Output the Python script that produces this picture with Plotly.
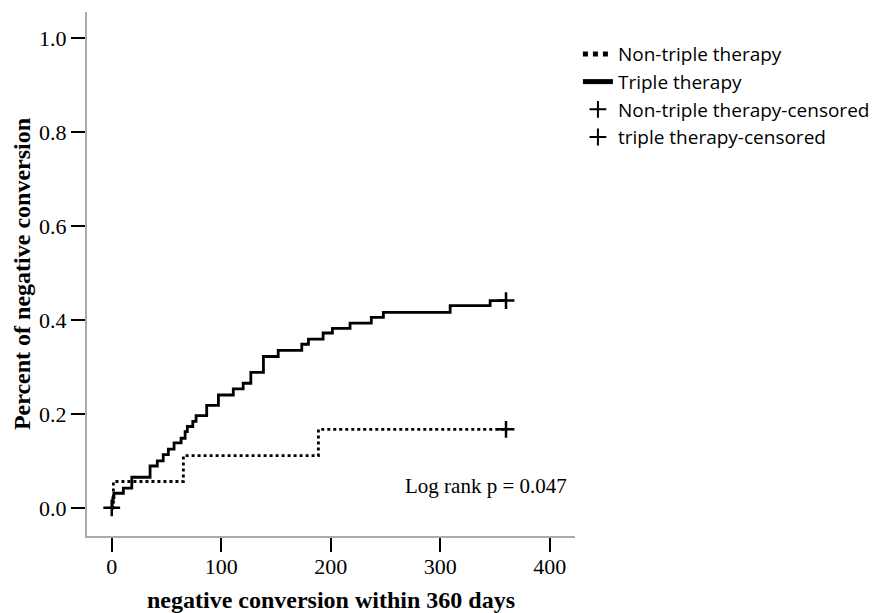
import plotly.graph_objects as go

# Cumulative proportion of negative conversion (Kaplan-Meier, 1 - S)
triple_days = [0, 0.5, 1, 2, 10.6, 18.3, 35, 41.6, 47, 51.7, 56.9, 63.3, 67, 69, 74, 77,
               86.7, 97.4, 111, 120, 127, 138.5, 152, 173.5, 179.6, 193, 201.5, 217.6,
               237, 248, 309, 345.5, 360]
triple_vals = [0, 0.012, 0.021, 0.031, 0.042, 0.065, 0.089, 0.100, 0.113, 0.125, 0.138,
               0.148, 0.162, 0.173, 0.184, 0.196, 0.218, 0.240, 0.253, 0.265, 0.288, 0.322,
               0.335, 0.348, 0.359, 0.372, 0.382, 0.393, 0.405, 0.416, 0.430, 0.441, 0.441]

nontriple_days = [0, 1.5, 65.4, 188.7, 360]
nontriple_vals = [0, 0.056, 0.111, 0.167, 0.167]

nontriple_cens_days = [360]
nontriple_cens_vals = [0.167]
triple_cens_days = [0, 360]
triple_cens_vals = [0, 0.441]

x_ticks = [0, 100, 200, 300, 400]
y_ticks = [0.0, 0.2, 0.4, 0.6, 0.8, 1.0]
y_ticklabels = ["0.0", "0.2", "0.4", "0.6", "0.8", "1.0"]

serif = "Liberation Serif, Times New Roman, serif"
sans = "Open Sans, Lato, Noto Sans, sans-serif"

fig = go.Figure()
fig.add_trace(go.Scatter(x=nontriple_days, y=nontriple_vals, mode="lines", line_shape="hv",
                         name="Non-triple therapy",
                         line=dict(color="black", width=2.8, dash="dot")))
fig.add_trace(go.Scatter(x=triple_days, y=triple_vals, mode="lines", line_shape="hv",
                         name="Triple therapy",
                         line=dict(color="black", width=2.8)))
fig.add_trace(go.Scatter(x=nontriple_cens_days, y=nontriple_cens_vals, mode="markers",
                         name="Non-triple therapy-censored",
                         marker=dict(symbol="cross-thin", size=12, line=dict(color="black", width=2.5))))
fig.add_trace(go.Scatter(x=triple_cens_days, y=triple_cens_vals, mode="markers",
                         name="triple therapy-censored",
                         marker=dict(symbol="cross-thin", size=12, line=dict(color="black", width=2.5))))

fig.add_annotation(x=266, y=0.047, xref="x", yref="y", text="Log rank p = 0.047",
                   showarrow=False, xanchor="left", yanchor="middle",
                   font=dict(family=serif, size=21, color="black"))

fig.update_layout(
    width=883, height=613,
    margin=dict(l=87, r=308, t=12, b=77, autoexpand=False),
    paper_bgcolor="white", plot_bgcolor="white",
    showlegend=True,
    legend=dict(x=1.006, y=0.956, xanchor="left", yanchor="top",
                font=dict(family=sans, size=19, color="black"),
                bgcolor="rgba(0,0,0,0)", tracegroupgap=0, itemsizing="constant"),
)
fig.update_xaxes(range=[-22.6, 423], tickvals=x_ticks, ticks="outside", ticklen=14,
                 tickwidth=2, tickcolor="black", showline=True, linecolor="#aaaaaa",
                 linewidth=2, showgrid=False, zeroline=False, automargin=False,
                 ticklabelstandoff=-4,
                 tickfont=dict(family=serif, size=22, color="black"),
                 title=dict(text="<b>negative conversion within 360 days</b>",
                            font=dict(family=serif, size=24, color="black"), standoff=13))
fig.update_yaxes(range=[-0.06, 1.055], tickvals=y_ticks, ticktext=y_ticklabels,
                 ticks="outside", ticklen=14, tickwidth=2, tickcolor="black",
                 showline=True, linecolor="#aaaaaa", linewidth=2, showgrid=False,
                 zeroline=False, automargin=False,
                 tickfont=dict(family=serif, size=22, color="black"),
                 title=dict(text="<b>Percent of negative conversion</b>",
                            font=dict(family=serif, size=24, color="black"), standoff=2))

post = ("document.body.style.margin='0px';document.body.style.overflow='hidden';"
        "Plotly.relayout('{plot_id}', {width: 883, height: 613});")
fig.write_html("out.html", post_script=post,
               config={"responsive": False, "displayModeBar": False})
